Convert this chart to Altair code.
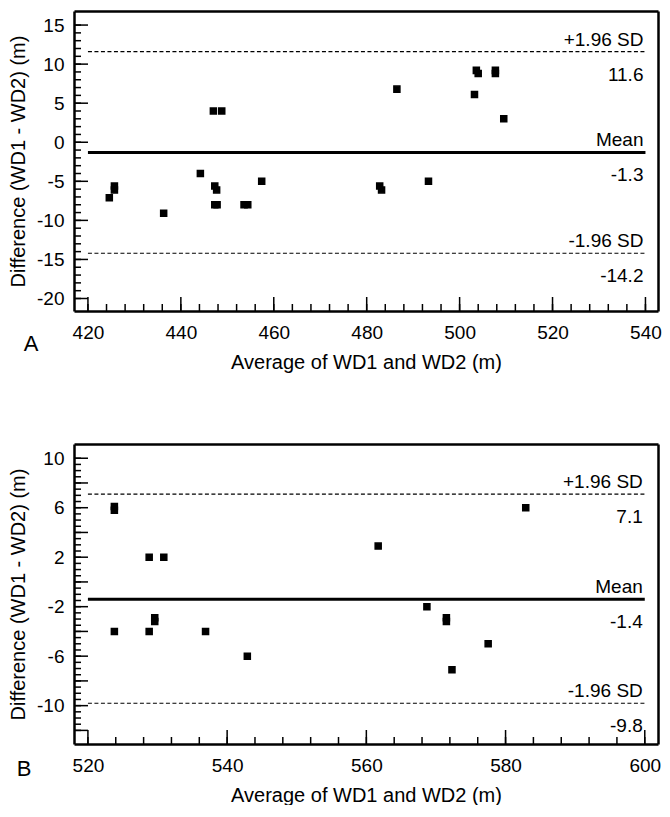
import altair as alt
import pandas as pd

FONT = "Liberation Sans"
W, H = 584, 300

# ---------------- Panel A data ----------------
a_avg = [424.6, 425.7, 425.7, 436.3, 444.2, 447.0, 448.8, 447.3, 447.7, 447.3, 447.8,
         453.6, 454.4, 457.4, 482.8, 483.2, 486.5, 493.3, 503.2, 503.6, 504.0,
         507.7, 507.7, 509.5]
a_diff = [-7.1, -5.6, -6.1, -9.1, -4.0, 4.0, 4.0, -5.6, -6.1, -8.0, -8.0,
          -8.0, -8.0, -5.0, -5.6, -6.1, 6.8, -5.0, 6.1, 9.2, 8.8,
          9.2, 8.8, 3.0]
a_line_vals = [11.6, -1.3, -14.2]
a_line_names = ["+1.96 SD", "Mean", "-1.96 SD"]
a_line_text = ["11.6", "-1.3", "-14.2"]
a_xdomain = [417.0, 542.7]
a_ydomain = [-21.6, 16.8]
a_xlabels = [420, 440, 460, 480, 500, 520, 540]
a_ylabels = [15, 10, 5, 0, -5, -10, -15, -20]
a_xminor = list(range(420, 541, 4))
a_yminor = list(range(-20, 16, 1))

# ---------------- Panel B data ----------------
b_avg = [523.8, 523.8, 528.8, 530.9, 523.8, 528.8, 529.6, 529.6, 536.9, 542.9,
         561.7, 568.7, 571.5, 571.5, 577.5, 572.3, 582.9]
b_diff = [5.8, 6.1, 2.0, 2.0, -4.0, -4.0, -2.9, -3.2, -4.0, -6.0,
          2.9, -2.0, -2.9, -3.2, -5.0, -7.1, 6.0]
b_line_vals = [7.1, -1.4, -9.8]
b_line_names = ["+1.96 SD", "Mean", "-1.96 SD"]
b_line_text = ["7.1", "-1.4", "-9.8"]
b_xdomain = [518.0, 601.9]
b_ydomain = [-13.1, 11.15]
b_xlabels = [520, 540, 560, 580, 600]
b_ylabels = [10, 6, 2, -2, -6, -10]
b_xminor = list(range(520, 601, 4))
b_ymajor = list(range(-12, 11, 2))
b_yminor = [v / 2 for v in range(-24, 21)]

KINDS = ["point", "ymaj", "ymin", "xmaj", "xmin"]


def frame_axis(orient):
    return alt.Axis(orient=orient, labels=False, ticks=False, grid=False, title=None,
                    domain=True, domainColor="black", domainWidth=2.5, zindex=2)


def panel(avg, diff, line_vals, line_names, line_text, xdom, ydom,
          xlabels, ylabels, xmajor, xminor, ymajor, yminor,
          letter, letter_x, letter_y, half):
    xs = alt.Scale(domain=xdom, nice=False, zero=False)
    ys = alt.Scale(domain=ydom, nice=False, zero=False)

    # points plus the inward ticks (ticks sit on the left / bottom edge of the domain)
    rows_x = list(avg) + [xdom[0]] * (len(ymajor) + len(yminor)) + list(xmajor) + list(xminor)
    rows_y = (list(diff) + list(ymajor) + list(yminor)
              + [ydom[0]] * (len(xmajor) + len(xminor)))
    rows_k = (["point"] * len(avg) + ["ymaj"] * len(ymajor) + ["ymin"] * len(yminor)
              + ["xmaj"] * len(xmajor) + ["xmin"] * len(xminor))
    pts = pd.DataFrame({"avg": rows_x, "diff": rows_y, "kind": rows_k})

    lines = pd.DataFrame({"val": line_vals, "name": line_names, "txt": line_text})
    mean_df = lines.iloc[[1]]
    sd_df = lines.iloc[[0, 2]]

    x_axis = alt.Axis(orient="bottom", values=xlabels, title="Average of WD1 and WD2 (m)",
                      ticks=False, domain=True, domainColor="black", domainWidth=2.5,
                      grid=False, labelFlush=False,
                      labelOverlap=False, labelPadding=12, titlePadding=10,
                      labelExpr="'' + datum.value", zindex=2)
    y_axis = alt.Axis(orient="left", values=ylabels, title="Difference (WD1 - WD2) (m)",
                      ticks=False, domain=True, domainColor="black", domainWidth=2.5,
                      grid=False, labelFlush=False,
                      labelOverlap=False, labelPadding=10, titlePadding=8,
                      labelExpr="'' + datum.value", zindex=2)

    sq = f"M{-half},{-half}H{half}V{half}H{-half}Z"
    shape_scale = alt.Scale(domain=KINDS,
                            range=[sq, "M0,0H2", "M0,0H1", "M0,0V-2", "M0,0V-1"])

    # size 196 -> one path unit = 7 px
    points = alt.Chart(pts).mark_point(filled=True, fill="black", stroke="black",
                                       strokeWidth=1.5, size=196, opacity=1).encode(
        x=alt.X("avg:Q", scale=xs, axis=x_axis),
        y=alt.Y("diff:Q", scale=ys, axis=y_axis),
        shape=alt.Shape("kind:N", scale=shape_scale, legend=None),
    )

    x0 = alt.datum(xlabels[0])
    x1 = alt.datum(xlabels[-1])

    mean_rule = alt.Chart(mean_df).mark_rule(color="black", strokeWidth=3).encode(
        x=x0, x2=x1, y=alt.Y("val:Q", scale=ys))
    sd_rule = alt.Chart(sd_df).mark_rule(color="black", strokeWidth=1.1,
                                         strokeDash=[4, 2.5]).encode(
        x=x0, x2=x1, y=alt.Y("val:Q", scale=ys))

    name_txt = alt.Chart(lines).mark_text(align="right", baseline="alphabetic", dx=-2, dy=-6,
                                          font=FONT, fontSize=19, color="black").encode(
        x=x1, y=alt.Y("val:Q", scale=ys), text="name:N")
    val_txt = alt.Chart(lines).mark_text(align="right", baseline="top", dx=-2, dy=14,
                                         font=FONT, fontSize=19, color="black").encode(
        x=x1, y=alt.Y("val:Q", scale=ys), text="txt:N")

    let = alt.Chart(pd.DataFrame({"t": [letter]})).mark_text(
        align="center", baseline="alphabetic", font=FONT, fontSize=22, color="black").encode(
        x=alt.value(letter_x), y=alt.value(letter_y), text="t:N")

    content = alt.layer(points, sd_rule, mean_rule, name_txt, val_txt, let)

    frame = alt.Chart(pts).mark_point(opacity=0).encode(
        x=alt.X("avg:Q", scale=xs, axis=frame_axis("top")),
        y=alt.Y("diff:Q", scale=ys, axis=frame_axis("right")),
    )

    return alt.layer(content, frame).resolve_axis(
        x="independent", y="independent").properties(width=W, height=H)


pa = panel(a_avg, a_diff, a_line_vals, a_line_names, a_line_text, a_xdomain, a_ydomain,
           a_xlabels, a_ylabels, a_xlabels, a_xminor, a_ylabels, a_yminor,
           "A", -43, 340, 0.43)
pb = panel(b_avg, b_diff, b_line_vals, b_line_names, b_line_text, b_xdomain, b_ydomain,
           b_xlabels, b_ylabels, b_xlabels, b_xminor, b_ymajor, b_yminor,
           "B", -50, 332, 0.47)

chart = alt.vconcat(pa, pb, spacing=133, bounds="flush").properties(
    padding={"left": 0, "top": 3, "right": 0, "bottom": 0},
    background="white"
).configure_view(
    stroke="transparent", strokeWidth=0
).configure_axis(
    labelFont=FONT, titleFont=FONT, labelFontSize=19, titleFontSize=20,
    labelColor="black", titleColor="black", titleFontWeight="normal"
)

chart.save("out.html", embed_options={"renderer": "svg", "actions": False})
